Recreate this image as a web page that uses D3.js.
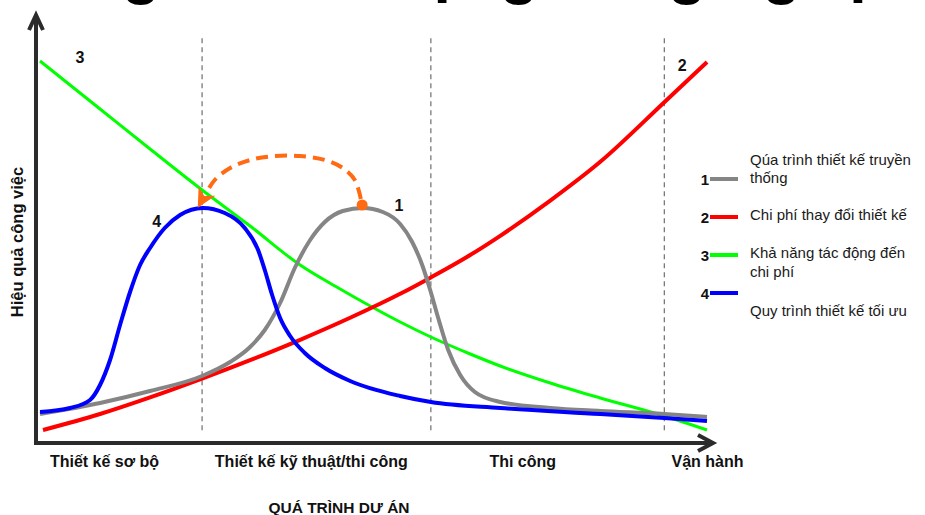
<!DOCTYPE html>
<html>
<head>
<meta charset="utf-8">
<script src="https://cdn.jsdelivr.net/npm/d3@7"></script>
<style>
  html, body { margin: 0; padding: 0; background: #fff; }
  svg { display: block; font-family: "Liberation Sans", Arial, sans-serif; }
</style>
</head>
<body>
<svg id="chart" width="925" height="515"></svg>
<script>
// Project phases along the horizontal axis (x in % of project progress)
const stageNames = ["Thiết kế sơ bộ", "Thiết kế kỹ thuật/thi công", "Thi công", "Vận hành"];
const stageLabelX = [9.6, 40.6, 72.3, 100];
const stageBoundaries = [24.3, 58.6, 93.6];

// Curves: [progress, work effectiveness]
const traditionalProcess = [
  [0, 7.25], [9, 10], [16.5, 13], [24.3, 16.75], [28.5, 20.25], [31.5, 24], [33.7, 28.25],
  [36, 35], [38.2, 43.75], [40.5, 50.75], [42.7, 55.25], [45.4, 58], [48.4, 58.75],
  [51.4, 57.75], [54, 54.75], [55.8, 50.25], [57.3, 44.5], [58.5, 38.25], [59.7, 31.25],
  [61.2, 23.25], [63, 17], [65.2, 12.75], [69, 10.25], [76.5, 8.75], [84, 8], [93.6, 7.25], [100, 6.5]
];
const changeCost = [
  [0.45, 3.25], [9, 7.25], [16.5, 11.4], [24.3, 16.1], [31.5, 20.7], [39, 25.8],
  [46.5, 31.3], [54, 37.3], [58.6, 41.4], [64.5, 47], [69, 51.8], [76.5, 60.6],
  [84, 70.3], [93.6, 85.2], [100, 95.25]
];
const costInfluence = [
  [0, 95.5], [9, 83.5], [16.5, 73.5], [24.3, 63.25], [31.5, 54.25], [39, 44.5],
  [45, 38.5], [49.5, 34.25], [54, 30.25], [58.6, 26.5], [64.5, 22.25], [69, 19.25],
  [76.5, 15], [84, 11.25], [93.6, 6.75], [100, 3.25]
];
const optimizedProcess = [
  [0, 7.75], [4.5, 8.75], [7.5, 10.75], [9, 14.5], [10.5, 20.75], [12, 29.5], [13.5, 37.75],
  [15, 44.5], [16.5, 48.75], [18.7, 53.75], [21, 57], [24.4, 58.75], [27.7, 57.5],
  [30.7, 53.75], [32.7, 48.25], [33.7, 43.25], [34.8, 37], [36, 31.25], [37.5, 26.75],
  [39.7, 22.5], [42.7, 18.75], [46.5, 15.5], [54, 11.75], [58.6, 10.25], [69, 8.75],
  [84, 7.25], [93.6, 6.25], [100, 5.5]
];

// Shift of the effort peak from the traditional to the optimized process
const peakShift = [
  [48.1, 61], [47.2, 65.75], [45.4, 68.75], [42.7, 70.75], [39, 71.75], [35.2, 71.75],
  [31.5, 70.75], [28.5, 68.75], [26.2, 65.75], [24.8, 62.25]
];
const peakShiftStart = [48.3, 59.5];

const seriesNames = ["Qúa trình thiết kế truyền thống", "Chi phí thay đổi thiết kế", "Khả năng tác động đến chi phí", "Quy trình thiết kế tối ưu"];
const seriesNumbers = ["1", "2", "3", "4"];
const seriesColors = ["#858585", "#ff0000", "#00ff00", "#0000ff"];
const curveLabelPos = [[53.8, 59.5], [96.3, 94.5], [6, 96.5], [17.5, 55.5]];

const svg = d3.select("#chart");
svg.append("rect").attr("width", 925).attr("height", 515).attr("fill", "#fff");

const x = d3.scaleLinear().domain([0, 100]).range([40, 707]);
const y = d3.scaleLinear().domain([0, 100]).range([443, 43]);

// Title (larger than the frame; only its lower edge is inside)
const title = svg.append("text")
  .attr("y", -8)
  .attr("font-size", 63)
  .attr("font-weight", "bold")
  .attr("fill", "#000")
  .text("Đường cong khi sử dụng công nghệ BIM");
const lead = title.node().getSubStringLength(0, 9);
title.attr("x", 122 - lead);

// Phase separators
svg.append("g").selectAll("line")
  .data(stageBoundaries)
  .join("line")
  .attr("x1", d => x(d)).attr("x2", d => x(d))
  .attr("y1", y(101.2)).attr("y2", y(2.7))
  .attr("stroke", "#6e6e6e")
  .attr("stroke-width", 1.2)
  .attr("stroke-dasharray", "5 4");

// Curves
const line = d3.line()
  .x(d => x(d[0])).y(d => y(d[1]))
  .curve(d3.curveMonotoneX);

const curves = [traditionalProcess, changeCost, costInfluence, optimizedProcess];
const widths = [4, 4, 3, 4];
const drawOrder = [2, 1, 0, 3];
svg.append("g").selectAll("path")
  .data(drawOrder)
  .join("path")
  .attr("d", i => line(curves[i]))
  .attr("fill", "none")
  .attr("stroke", i => seriesColors[i])
  .attr("stroke-width", i => widths[i])
  .attr("stroke-linecap", "butt")
  .attr("stroke-linejoin", "round");

// Arrow showing the shift of the effort peak
const defs = svg.append("defs");
defs.append("marker")
  .attr("id", "shiftHead")
  .attr("viewBox", "0 -6 12 12")
  .attr("refX", 2)
  .attr("refY", 0)
  .attr("markerUnits", "userSpaceOnUse")
  .attr("markerWidth", 19)
  .attr("markerHeight", 19)
  .attr("orient", "auto")
  .append("path")
  .attr("d", "M0,-6 L12,0 L0,6 L3.5,0 Z")
  .attr("fill", "#ff6a13");

svg.append("path")
  .attr("d", d3.line().x(d => x(d[0])).y(d => y(d[1])).curve(d3.curveCatmullRom.alpha(0.5))(peakShift))
  .attr("fill", "none")
  .attr("stroke", "#ff6a13")
  .attr("stroke-width", 4)
  .attr("stroke-dasharray", "12 7")
  .attr("marker-end", "url(#shiftHead)");

svg.append("circle")
  .attr("cx", x(peakShiftStart[0])).attr("cy", y(peakShiftStart[1]))
  .attr("r", 5.5)
  .attr("fill", "#ff6a13");

// Axes with arrow heads
const axisColor = "#2b2b2b";
const axisG = svg.append("g").attr("fill", "none").attr("stroke", axisColor).attr("stroke-width", 4);
const ax0 = x(-0.6), ay0 = y(0);
axisG.append("path").attr("d", `M${ax0},${ay0 + 2} L${ax0},${y(107)}`);
axisG.append("path").attr("d", `M${ax0 - 7},${y(107) + 15} L${ax0},${y(107)} L${ax0 + 7},${y(107) + 15}`)
  .attr("stroke-linejoin", "miter");
axisG.append("path").attr("d", `M${ax0 - 2},${ay0} L${x(100.9)},${ay0}`);
axisG.append("path").attr("d", `M${x(100.9) - 15},${ay0 - 8} L${x(100.9)},${ay0} L${x(100.9) - 15},${ay0 + 8}`)
  .attr("stroke-linejoin", "miter");

// Phase labels
const xAxis = d3.axisBottom(x)
  .tickValues(stageLabelX)
  .tickSize(0)
  .tickPadding(0)
  .tickFormat((d, i) => stageNames[i]);
const xg = svg.append("g").attr("transform", `translate(0,${ay0})`).call(xAxis);
xg.select(".domain").remove();
xg.selectAll("text")
  .attr("dy", null)
  .attr("y", 24)
  .attr("font-family", "Liberation Sans, Arial, sans-serif")
  .attr("font-size", 16)
  .attr("font-weight", "bold")
  .attr("fill", "#111");

svg.append("text")
  .attr("x", 339).attr("y", 513)
  .attr("text-anchor", "middle")
  .attr("font-size", 15.5)
  .attr("font-weight", "bold")
  .attr("fill", "#111")
  .text("QUÁ TRÌNH DƯ ÁN");

svg.append("text")
  .attr("transform", "translate(23,242) rotate(-90)")
  .attr("text-anchor", "middle")
  .attr("font-size", 16.5)
  .attr("font-weight", "bold")
  .attr("fill", "#111")
  .text("Hiệu quả công việc");

// Curve numbers
svg.append("g").selectAll("text")
  .data(curveLabelPos)
  .join("text")
  .attr("x", d => x(d[0])).attr("y", d => y(d[1]))
  .attr("text-anchor", "middle")
  .attr("dy", "0.35em")
  .attr("font-size", 16)
  .attr("font-weight", "bold")
  .attr("fill", "#111")
  .text((d, i) => seriesNumbers[i]);

// Legend
const legendRows = [179, 217, 255, 293];
const legendText = [
  [["Qúa trình thiết kế truyền", 165], ["thống", 183]],
  [["Chi phí thay đổi thiết kế", 220]],
  [["Khả năng tác động đến", 258], ["chi phí", 277]],
  [["Quy trình thiết kế tối ưu", 316]]
];
const legend = svg.append("g");
seriesNames.forEach((name, i) => {
  const row = legend.append("g");
  row.append("line")
    .attr("x1", 710).attr("x2", 738)
    .attr("y1", legendRows[i]).attr("y2", legendRows[i])
    .attr("stroke", seriesColors[i]).attr("stroke-width", 4);
  row.append("text")
    .attr("x", 709).attr("y", legendRows[i] + 6)
    .attr("text-anchor", "end")
    .attr("font-size", 15).attr("font-weight", "bold").attr("fill", "#111")
    .text(seriesNumbers[i]);
  legendText[i].forEach(([t, ty]) => {
    row.append("text")
      .attr("x", 750).attr("y", ty)
      .attr("font-size", 15).attr("fill", "#1a1a1a")
      .text(t);
  });
});
</script>
</body>
</html>
